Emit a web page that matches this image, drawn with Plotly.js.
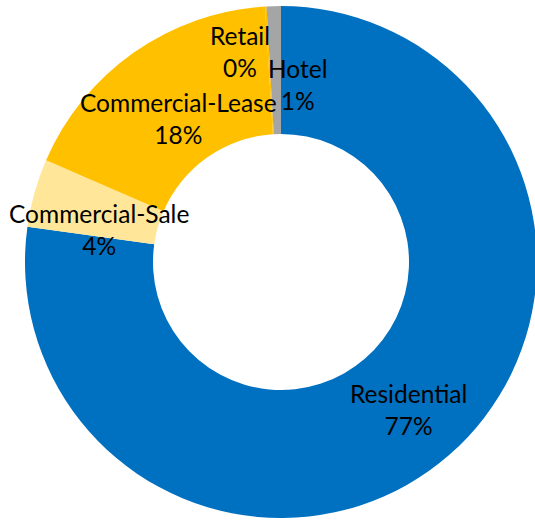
<!DOCTYPE html>
<html>
<head>
<meta charset="utf-8">
<script src="https://cdn.plot.ly/plotly-3.0.1.min.js"></script>
<style>
html,body{margin:0;padding:0;overflow:hidden;background:#fff;}
#chart{width:550px;height:520px;}
</style>
</head>
<body>
<div id="chart"></div>
<script>
const categories = ["Residential", "Commercial-Sale", "Commercial-Lease", "Retail", "Hotel"];
const values = [77.2, 4.3, 17.5, 0.1, 0.9];
const colors = ["#0070C0", "#FFE699", "#FFC000", "#FFC000", "#A5A5A5"];
// label centre positions in pixels (layout only)
const labelPos = [[408, 409], [99, 229], [178, 119], [240, 52], [297, 85]];

const W = 550, H = 520;
const total = values.reduce((a, b) => a + b, 0);
const annotations = categories.map((c, i) => ({
  x: labelPos[i][0] / W,
  y: 1 - labelPos[i][1] / H,
  xref: "paper", yref: "paper",
  xanchor: "center", yanchor: "middle",
  showarrow: false,
  align: "center",
  text: c + "<br>" + Math.round(values[i] / total * 100) + "%",
  font: {family: "Lato, 'Noto Sans', sans-serif", size: 24.5, color: "#000"}
}));

const data = [{
  type: "pie",
  labels: categories,
  values: values,
  marker: {colors: colors, line: {width: 0}},
  hole: 0.5,
  sort: false,
  direction: "clockwise",
  rotation: 0,
  textinfo: "none",
  hoverinfo: "none",
  domain: {x: [25 / W, 537 / W], y: [2 / H, 1 - 6 / H]}
}];

const layout = {
  width: W, height: H,
  margin: {l: 0, r: 0, t: 0, b: 0},
  showlegend: false,
  paper_bgcolor: "#fff",
  annotations: annotations
};

Plotly.newPlot("chart", data, layout, {displayModeBar: false, staticPlot: true});
</script>
</body>
</html>
